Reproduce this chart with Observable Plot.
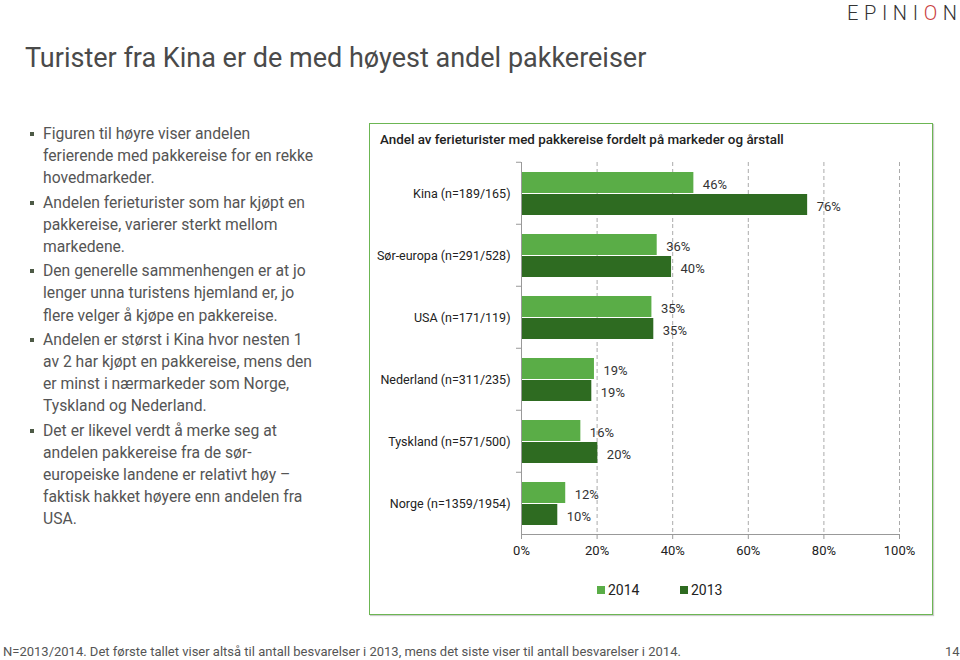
<!DOCTYPE html>
<html><head><meta charset="utf-8">
<script src="https://cdn.jsdelivr.net/npm/d3@7"></script>
<script src="https://cdn.jsdelivr.net/npm/@observablehq/plot@0.6"></script>
<style>
body{margin:0;width:960px;height:660px;position:relative;background:#fff;font-family:Roboto,sans-serif;overflow:hidden}
#logo{position:absolute;left:847px;top:1px;font-size:20px;font-weight:300;letter-spacing:5.5px;color:#333;line-height:24px;white-space:nowrap}
#logo .o{color:#c9413f}
#logo .n{letter-spacing:0}
#title{position:absolute;left:25px;top:42px;margin:0;font-size:27px;font-weight:400;color:#4a4a4a;line-height:32px;white-space:nowrap}
#bullets{position:absolute;left:0;top:123px;width:350px}
.b{position:relative;padding-left:43px;font-size:15.7px;line-height:22.2px;color:#555;margin-bottom:2px;white-space:nowrap}
.b:before{content:"";position:absolute;left:30px;top:9px;width:4px;height:4px;background:#4d5a46}
#box{position:absolute;left:369px;top:123px;width:562px;height:490px;border:1.5px solid #6cb653;box-shadow:1px 1px 1px #ccc}
#ctitle{position:absolute;left:10px;top:8px;font-size:13.4px;font-weight:500;color:#222;white-space:nowrap}
#chart{position:absolute;left:0;top:26px}
#legend{position:absolute;top:458px;left:0;width:100%;font-size:14px;color:#222}
.lg{position:absolute;top:0;line-height:16px}
.lg i{display:inline-block;width:8px;height:8px;margin-right:3px;vertical-align:1px}
#footer{position:absolute;left:3px;top:644px;font-size:13px;color:#555;white-space:nowrap}
#page{position:absolute;left:945px;top:644px;font-size:13px;color:#555}
</style></head><body>
<div id="logo">EPINI<span class="o">O</span><span class="n">N</span></div>
<h1 id="title">Turister fra Kina er de med høyest andel pakkereiser</h1>
<div id="bullets">
<div class="b">Figuren til høyre viser andelen<br>ferierende med pakkereise for en rekke<br>hovedmarkeder.</div>
<div class="b">Andelen ferieturister som har kjøpt en<br>pakkereise, varierer sterkt mellom<br>markedene.</div>
<div class="b">Den generelle sammenhengen er at jo<br>lenger unna turistens hjemland er, jo<br>flere velger å kjøpe en pakkereise.</div>
<div class="b">Andelen er størst i Kina hvor nesten 1<br>av 2 har kjøpt en pakkereise, mens den<br>er minst i nærmarkeder som Norge,<br>Tyskland og Nederland.</div>
<div class="b">Det er likevel verdt å merke seg at<br>andelen pakkereise fra de sør-<br>europeiske landene er relativt høy –<br>faktisk hakket høyere enn andelen fra<br>USA.</div>
</div>
<div id="box">
<div id="ctitle">Andel av ferieturister med pakkereise fordelt på markeder og årstall</div>
<div id="chart"></div>
<div id="legend"></div>
</div>
<div id="footer">N=2013/2014. Det første tallet viser altså til antall besvarelser i 2013, mens det siste viser til antall besvarelser i 2014.</div>
<div id="page">14</div>
<script>
// fit logo to its span in the slide (x 847..957)
(function(){
  const el = document.getElementById("logo");
  const w = el.getBoundingClientRect().width;
  const ls = 5.5 + (110 - w) / 6;
  el.style.letterSpacing = ls + "px";
})();

const markets = ["Kina (n=189/165)","Sør-europa (n=291/528)","USA (n=171/119)","Nederland (n=311/235)","Tyskland (n=571/500)","Norge (n=1359/1954)"];
const values2014 = [45.6, 35.9, 34.5, 19.3, 15.7, 11.7];
const values2013 = [75.7, 39.7, 35.0, 18.6, 20.2, 9.6];
const years = ["2014","2013"];
const colors = ["#5aad47","#2e6b21"];
const xTicks = [0,20,40,60,80,100];

const data = markets.flatMap((m,i)=>[
  {market:m, year:years[0], value:values2014[i]},
  {market:m, year:years[1], value:values2013[i]}
]);

const H=415, MT=10, MB=30;
const step=(H-MT-MB)/markets.length;

const chart = Plot.plot({
  width:560, height:H, marginLeft:151, marginRight:31, marginTop:MT, marginBottom:MB,
  style:{fontFamily:"Roboto, sans-serif", fontSize:"13px", color:"#333", background:"transparent"},
  x:{domain:[0,100], axis:null, label:null},
  y:{domain:years, paddingInner:0.05, paddingOuter:0.42, axis:null, label:null},
  fy:{domain:markets, padding:0, axis:null, label:null},
  color:{domain:years, range:colors},
  marks:[
    Plot.ruleX(xTicks.slice(1), {x:d=>d, stroke:"#aaa", strokeDasharray:"4,3"}),
    Plot.barX(data, {fy:"market", y:"year", x:"value", fill:"year"}),
    Plot.text(data, {fy:"market", y:"year", x:"value", text:d=>Math.round(d.value)+"%", textAnchor:"start", dx:9, dy:2, fill:"#333", fontSize:13}),
    Plot.ruleX([0], {stroke:"#999"}),
    Plot.axisFy({anchor:"left", label:null, tickSize:0, tickPadding:11, fontSize:12.5, fill:"#222"}),
    Plot.axisFy({anchor:"left", label:null, tickSize:5, tickFormat:()=>"", dy:-step/2, stroke:"#999"}),
    Plot.axisX({ticks:xTicks, label:null, tickFormat:d=>d+"%", tickSize:5, tickPadding:6, stroke:"#999", fill:"#222", fontSize:13}),
    Plot.frame({anchor:"bottom", facetAnchor:"bottom", stroke:"#999"})
  ]
});
document.getElementById("chart").appendChild(chart);

const lg = document.getElementById("legend");
const lpos = [227, 310];
years.forEach((y,i)=>{
  const d = document.createElement("div");
  d.className="lg"; d.style.left = lpos[i]+"px";
  d.innerHTML = `<i style="background:${colors[i]}"></i>${y}`;
  lg.appendChild(d);
});
</script>
</body></html>
